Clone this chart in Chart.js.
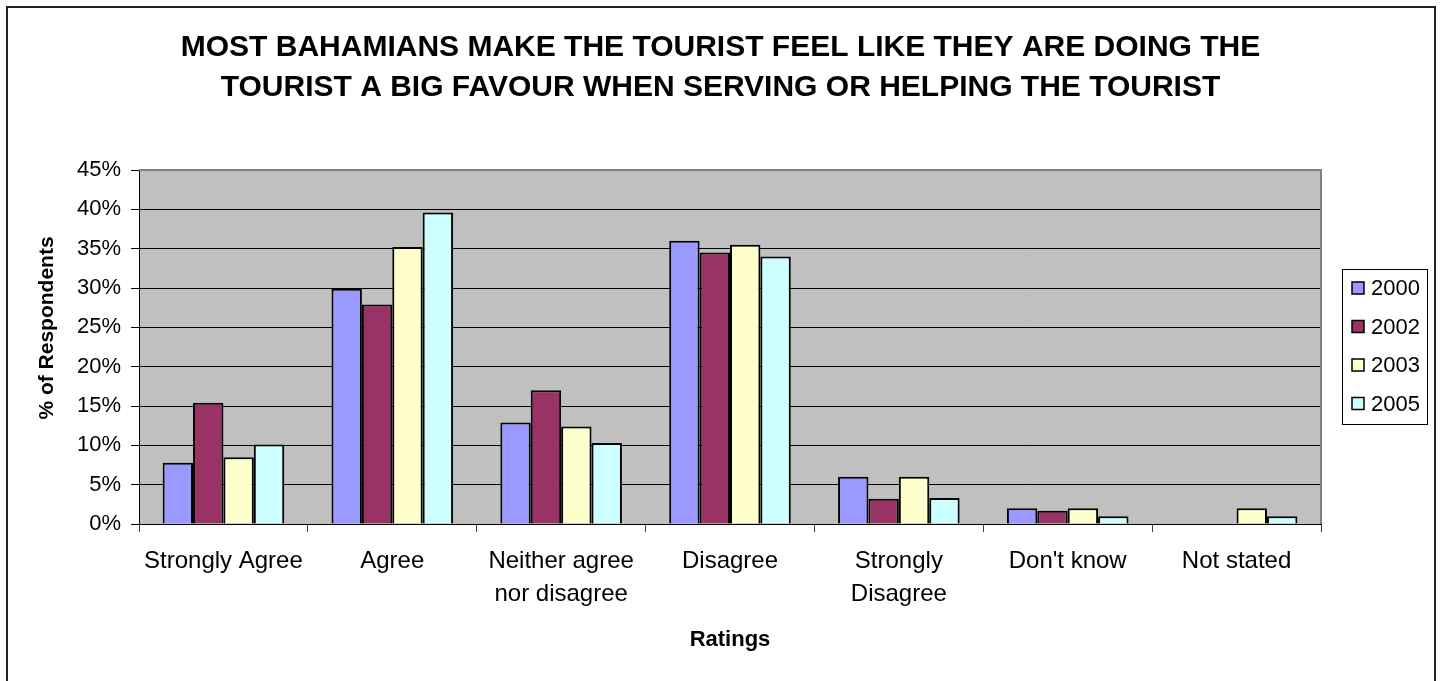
<!DOCTYPE html>
<html>
<head>
<meta charset="utf-8">
<title>Tourist favour ratings</title>
<script src="https://cdn.jsdelivr.net/npm/chart.js@4/dist/chart.umd.min.js"></script>
<style>
  body { margin: 0; background: #fff; }
  canvas { display: block; }
</style>
</head>
<body>
<canvas id="ratingsChart" width="1441" height="681"></canvas>
<script>
// Answer categories (two-line labels are arrays)
const ratings = ['Strongly Agree', 'Agree', ['Neither agree', 'nor disagree'], 'Disagree', ['Strongly', 'Disagree'], "Don't know", 'Not stated'];

// Survey years and their bar colours
const years = ['2000', '2002', '2003', '2005'];
const yearColors = ['#9999FF', '#993366', '#FFFFCC', '#CCFFFF'];

// % of respondents per rating, one list per year (null = not asked)
const pct2000 = [7.8, 29.9, 12.9, 36.0, 6.0, 2.0, null];
const pct2002 = [15.4, 27.9, 17.0, 34.5, 3.2, 1.7, null];
const pct2003 = [8.5, 35.2, 12.4, 35.5, 6.0, 2.0, 2.0];
const pct2005 = [10.1, 39.6, 10.3, 34.0, 3.3, 1.0, 1.0];

// Y axis range and step, in percent
const yMax = 45;
const yStep = 5;

const chartTitle = [
    'MOST BAHAMIANS MAKE THE TOURIST FEEL LIKE THEY ARE DOING THE',
    'TOURIST A BIG FAVOUR WHEN SERVING OR HELPING THE TOURIST'
];

const fontFamily = 'Arial, "Liberation Sans", sans-serif';
Chart.defaults.font.family = fontFamily;
Chart.defaults.color = '#000';

// Background, plot frame, rotated y title and boxed legend
const chartFrame = {
    id: 'chartFrame',
    beforeDraw(chart) {
        const { ctx, chartArea: a } = chart;
        ctx.save();
        ctx.fillStyle = '#fff';
        ctx.fillRect(0, 0, chart.width, chart.height);
        ctx.fillStyle = '#C0C0C0';
        ctx.fillRect(a.left, a.top, a.right - a.left, a.bottom - a.top);
        ctx.restore();
    },
    afterDraw(chart) {
        const { ctx, chartArea: a } = chart;
        ctx.save();

        // outer border
        ctx.strokeStyle = '#222';
        ctx.lineWidth = 2;
        ctx.strokeRect(7, 7, 1428, 700);

        // grey top and right edges of the plot
        ctx.strokeStyle = '#808080';
        ctx.lineWidth = 2;
        ctx.beginPath();
        ctx.moveTo(a.left, a.top);
        ctx.lineTo(a.right, a.top);
        ctx.lineTo(a.right, a.bottom);
        ctx.stroke();

        // y axis title
        ctx.fillStyle = '#000';
        ctx.font = 'bold 21px ' + fontFamily;
        ctx.textAlign = 'center';
        ctx.textBaseline = 'middle';
        ctx.translate(47, 328);
        ctx.rotate(-Math.PI / 2);
        ctx.fillText('% of Respondents', 0, 0);
        ctx.setTransform(1, 0, 0, 1, 0, 0);

        // legend
        ctx.strokeStyle = '#000';
        ctx.lineWidth = 1;
        ctx.strokeRect(1342.5, 269.5, 85, 155);
        ctx.font = '22px ' + fontFamily;
        ctx.textAlign = 'left';
        chart.data.datasets.forEach((ds, i) => {
            const y = 288 + i * 38.5;
            ctx.fillStyle = ds.backgroundColor;
            ctx.fillRect(1352, y - 6, 12, 12);
            ctx.lineWidth = 1.5;
            ctx.strokeRect(1352, y - 6, 12, 12);
            ctx.fillStyle = '#000';
            ctx.fillText(ds.label, 1371, y + 1);
        });

        ctx.restore();
    }
};

const seriesValues = [pct2000, pct2002, pct2003, pct2005];

const ctx = document.getElementById('ratingsChart').getContext('2d');
const ratingsChart = new Chart(ctx, {
    type: 'bar',
    data: {
        labels: ratings,
        datasets: years.map((year, i) => ({
            label: year,
            data: seriesValues[i],
            backgroundColor: yearColors[i],
            borderColor: '#000',
            borderWidth: 2,
            categoryPercentage: 0.72,
            barPercentage: 1
        }))
    },
    options: {
        responsive: false,
        animation: false,
        devicePixelRatio: 1,
        layout: { padding: 0 },
        plugins: {
            legend: { display: false },
            tooltip: { enabled: false },
            title: {
                display: true,
                text: chartTitle,
                color: '#000',
                font: { size: 30, weight: 'bold', lineHeight: '40px' },
                padding: { top: 28, bottom: 62 }
            }
        },
        scales: {
            x: {
                grid: { offset: true, drawOnChartArea: false, tickLength: 8, color: '#404040' },
                border: { color: '#000', width: 1 },
                ticks: {
                    color: '#000',
                    autoSkip: false,
                    maxRotation: 0,
                    padding: 13,
                    font: { size: 24, lineHeight: '33px' }
                },
                title: {
                    display: true,
                    text: 'Ratings',
                    color: '#000',
                    font: { size: 22, weight: 'bold' },
                    padding: { top: 0, bottom: 28 }
                },
                afterFit(scale) { scale.height = 157; }
            },
            y: {
                min: 0,
                max: yMax,
                grid: { color: '#000', tickColor: '#000', tickLength: 8 },
                border: { color: '#000', width: 1 },
                ticks: {
                    stepSize: yStep,
                    color: '#000',
                    padding: 10,
                    font: { size: 22 },
                    callback: v => v + '%'
                },
                afterFit(scale) { scale.width = 139; }
            },
            // keeps room on the right for the legend
            legendSpace: {
                position: 'right',
                grid: { display: false },
                border: { display: false },
                ticks: { display: false },
                afterFit(scale) { scale.width = 120; }
            }
        }
    },
    plugins: [chartFrame]
});
</script>
</body>
</html>
